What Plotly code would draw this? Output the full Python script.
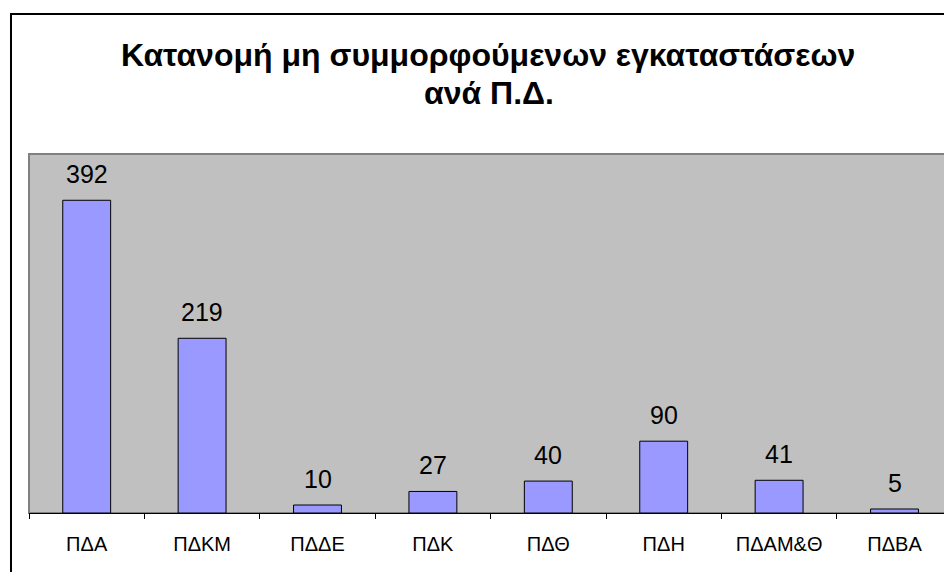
import plotly.graph_objects as go

categories = ["ΠΔΑ", "ΠΔΚΜ", "ΠΔΔΕ", "ΠΔΚ", "ΠΔΘ", "ΠΔΗ", "ΠΔΑΜ&Θ", "ΠΔΒΑ"]
values = [392, 219, 10, 27, 40, 90, 41, 5]
title_line1 = "Κατανομή μη συμμορφούμενων εγκαταστάσεων"
title_line2 = "ανά Π.Δ."

FONT = "Liberation Sans, Arial, sans-serif"
W, H = 952, 572
OFF = 8  # page offset of the figure in the screenshot
L, T = 21, 146
AXIS_Y = 505
R = 0
B = H - AXIS_Y
PW = W - L - R
PH = H - T - B
CAT_W = 115.4  # pixels per category
span = PW / CAT_W

def px_x(p):
    return (p - OFF - L) / PW

def px_y(p):
    return (H - B - (p - OFF)) / PH

fig = go.Figure()
fig.add_trace(go.Bar(
    x=categories, y=values,
    marker=dict(color="#9999FF", line=dict(color="#000000", width=1)),
    width=0.415,
    hoverinfo="x+y",
))

annotations = []
for c, v in zip(categories, values):
    annotations.append(dict(
        x=c, y=v, xref="x", yref="y", text=str(v), showarrow=False,
        yanchor="bottom", yshift=10,
        font=dict(family=FONT, size=25, color="#000000"),
    ))
annotations.append(dict(
    x=px_x(488), y=px_y(55), xref="paper", yref="paper", text="<b>%s</b>" % title_line1,
    showarrow=False, xanchor="center", yanchor="middle",
    font=dict(family=FONT, size=32, color="#000000"),
))
annotations.append(dict(
    x=px_x(489), y=px_y(93), xref="paper", yref="paper", text="<b>%s</b>" % title_line2,
    showarrow=False, xanchor="center", yanchor="middle",
    font=dict(family=FONT, size=32, color="#000000"),
))

shapes = [
    # outer chart border
    dict(type="rect", xref="paper", yref="paper",
         x0=px_x(11), y0=px_y(600), x1=px_x(1000), y1=px_y(14),
         line=dict(color="#000000", width=2), fillcolor="rgba(0,0,0,0)", layer="above"),
    # plot area border
    dict(type="rect", xref="paper", yref="paper",
         x0=0, y0=0, x1=px_x(1010), y1=1,
         line=dict(color="#808080", width=2), fillcolor="rgba(0,0,0,0)", layer="below"),
]

fig.update_layout(
    width=W, height=H,
    margin=dict(l=L, r=R, t=T, b=B, pad=0),
    paper_bgcolor="#FFFFFF",
    plot_bgcolor="#C0C0C0",
    showlegend=False,
    annotations=annotations,
    shapes=shapes,
    xaxis=dict(
        type="category", tickson="boundaries", ticks="outside", ticklen=5,
        tickcolor="#000000", tickwidth=1,
        showline=True, linecolor="#000000", linewidth=1,
        showgrid=False, zeroline=False,
        tickfont=dict(family=FONT, size=20, color="#000000"),
        ticklabelstandoff=13,
        range=[-0.5, -0.5 + span],
    ),
    yaxis=dict(
        range=[0, 450], showticklabels=False, showgrid=False, zeroline=False,
        showline=False, ticks="",
    ),
)

fig.write_html("out.html")
